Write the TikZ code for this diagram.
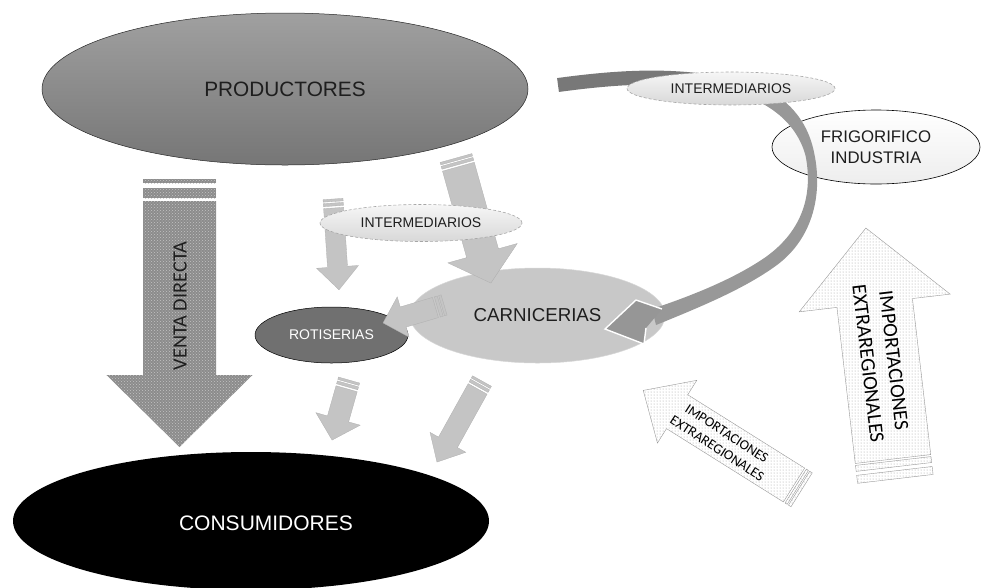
\documentclass[tikz,border=0pt]{standalone}
\usepackage{fontspec}
\setmainfont{Liberation Sans}
\newfontfamily\calib{Carlito}
\usetikzlibrary{shapes.geometric,patterns}
\definecolor{prodtop}{RGB}{160,160,160}
\definecolor{prodbot}{RGB}{118,118,118}
\definecolor{midarrow}{RGB}{196,196,196}
\definecolor{midedge}{RGB}{175,175,175}
\definecolor{vdgray}{RGB}{140,140,140}
\definecolor{vdlight}{RGB}{195,195,195}
\definecolor{bandA}{RGB}{120,120,120}
\definecolor{bandB}{RGB}{152,152,152}
\definecolor{headc}{RGB}{150,150,150}
\definecolor{carnc}{RGB}{200,200,200}
\definecolor{carnedge}{RGB}{215,215,215}
\definecolor{rotc}{RGB}{112,112,112}
\definecolor{intertop}{RGB}{246,246,246}
\definecolor{interbot}{RGB}{216,216,216}
\definecolor{txtdark}{RGB}{30,30,30}
\newcommand{\myfs}[2]{\fontsize{#1}{#2}\selectfont}
% #1 style, #2 tail, #3 angle, #4 length, #5 shaft half width, #6 head half width, #7 head length, #8 stripes
\newcommand{\blockarr}[8]{%
  \begin{scope}[shift={(#2)}, rotate=#3]
    \path[#1] (0,-#5) -- ({#4-#7},-#5) -- ({#4-#7},-#6) -- (#4,0) -- ({#4-#7},#6) -- ({#4-#7},#5) -- (0,#5) -- cycle;
    \foreach \a/\b in {#8} {\path[#1] (-\a,-#5) rectangle (-\b,#5);}
  \end{scope}}
\tikzset{
  ell/.style={ellipse, inner sep=0pt, align=center},
  midarr/.style={fill=midarrow, draw=midedge, line width=0.3pt},
  vdarr/.style={preaction={fill=vdgray}, pattern=crosshatch dots, pattern color=vdlight},
  imparr/.style={preaction={fill=white}, pattern=dots, pattern color=gray!75, draw=gray!80, line width=0.4pt},
  interell/.style={ell, draw=gray!70, dash pattern=on 3pt off 2pt, line width=0.6pt, top color=intertop, bottom color=interbot, text=txtdark, font=\myfs{14}{17}},
}
\begin{document}
\begin{tikzpicture}[x=1pt, y=-1pt]
\useasboundingbox (0,0) rectangle (981,587);

% frigorifico
\node[ell, draw=black, line width=0.6pt, top color=white, bottom color=gray!14, minimum width=208pt, minimum height=74pt, font=\myfs{16.8}{21}, text=txtdark] (frig) at (876,147) {FRIGORIFICO\\INDUSTRIA};

% productores
\node[ell, draw=black!85, line width=0.5pt, top color=prodtop, bottom color=prodbot, minimum width=486pt, minimum height=152pt, font=\myfs{20.8}{24}, text=txtdark] (prod) at (285,89) {PRODUCTORES};

% carnicerias and rotiserias
\node[ell, draw=carnedge, line width=0.5pt, fill=carnc, minimum width=255pt, minimum height=95pt, font=\myfs{18.7}{22}, text=txtdark] (carn) at (537.5,315.5) {CARNICERIAS};
\node[ell, draw=black, line width=0.5pt, fill=rotc, minimum width=153pt, minimum height=56pt, font=\myfs{14}{17}, text=white] (rot) at (331.5,335) {ROTISERIAS};

% curved band (ribbon)
\draw[line width=14pt, bandA] (558,85) .. controls (610,78) and (660,74) .. (712,82);
\fill[bandB] (705.6,73) .. controls (764,78) and (805,104) .. (814.4,154.1)
   .. controls (823,196) and (812,241) .. (773.8,267.3)
   .. controls (743,289) and (703,306) .. (656,325)
   -- (652,309)
   .. controls (697,294) and (737,277) .. (766.2,256.7)
   .. controls (803,230) and (813,194) .. (805.6,155.9)
   .. controls (795,116) and (756,92) .. (704.4,87) -- cycle;
\coordinate (hu) at (662,309);
\coordinate (hl) at (646,328);
\fill[headc] (hu) -- (636,300) -- (605,329) -- (644,344) -- (hl) -- cycle;
\draw[white, line width=1.4pt, line join=miter] (hu) -- (636,300) -- (605,329) -- (644,344) -- (hl);

% top intermediarios
\node[interell, minimum width=208pt, minimum height=33pt] (inter1) at (731,88.5) {INTERMEDIARIOS};

% venta directa
\blockarr{vdarr}{179.5,201}{-90}{246}{36.5}{73}{72}{3/13, 18/22}
\node[font=\calib\myfs{20.3}{24}, text=txtdark, rotate=90] (vdtxt) at (180,306) {VENTA DIRECTA};

% middle arrows
\blockarr{midarr}{458.4,166.7}{-74.4}{120.8}{16.5}{36}{31}{2/5, 6.5/9}
\blockarr{midarr}{333.6,208}{-86.2}{82}{10}{21}{23}{2/5, 6.5/9}
\blockarr{midarr}{435.4,307.5}{-163.6}{54.6}{10.5}{21}{21}{2/5, 6.5/9}
\blockarr{midarr}{346.6,388.7}{-105.8}{53.4}{11}{23}{22}{2/5, 6.5/9}
\blockarr{midarr}{477.6,388.9}{-119.05}{83.7}{10.8}{20.5}{22.6}{2/5, 6.5/9}

% middle intermediarios
\node[interell, minimum width=202pt, minimum height=37pt] (inter2) at (421,223) {INTERMEDIARIOS};

% consumidores
\node[ell, fill=black, minimum width=476pt, minimum height=138pt] (cons) at (251,521) {};
\node[font=\myfs{21}{24}, text=white] (constxt) at (266,523) {CONSUMIDORES};

% importaciones
\blockarr{imparr}{893,459}{96.7}{232.6}{38}{76}{75.5}{2/8, 12/20}
\node[font=\calib\myfs{20.5}{26}, text=black, rotate=-83.3, align=center] (imp1) at (881,362) {IMPORTACIONES\\EXTRAREGIONALES};
\blockarr{imparr}{794,485}{147.9}{178}{20}{37}{40}{2/4.5, 6/9}
\node[font=\calib\myfs{14}{17.5}, text=black, rotate=-33, align=center] (imp2) at (722,441) {IMPORTACIONES\\EXTRAREGIONALES};
\end{tikzpicture}
\end{document}
